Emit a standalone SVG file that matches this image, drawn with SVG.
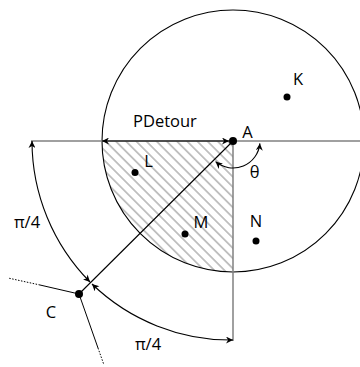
<svg xmlns="http://www.w3.org/2000/svg" width="360" height="367" viewBox="0 0 360 367">
<style>
text{font-family:"Open Sans","Liberation Sans",sans-serif;font-size:16.5px;fill:#000}
.gray{stroke:#808080;stroke-width:1.5;fill:none}
.blk{stroke:#000;stroke-width:1.1;fill:none}
.arr{marker-start:url(#ah);marker-end:url(#ah)}
.dot{fill:#000}
</style>
<defs>
<marker id="ah" viewBox="0 0 10 10" refX="10" refY="5" markerWidth="8" markerHeight="7" markerUnits="userSpaceOnUse" orient="auto-start-reverse">
<path d="M0,0 L10,5 L0,10 L3,5 z" fill="#000"/>
</marker>
<pattern id="hatch" width="7.2" height="7.2" patternUnits="userSpaceOnUse" patternTransform="rotate(45)">
<line x1="0" y1="3.6" x2="7.2" y2="3.6" stroke="#a6a6a6" stroke-width="1.3"/>
</pattern>
</defs>
<path id="region" d="M102,141 L233,141 L233,272 A131,131 0 0 1 102,141 Z" fill="url(#hatch)"/>
<circle id="range" cx="233" cy="141" r="131" fill="none" stroke="#000" stroke-width="1.1"/>
<g id="connectors">
<line class="gray" x1="31" y1="141" x2="360" y2="141"/>
<line class="gray" x1="233" y1="141" x2="233" y2="341"/>
<line class="blk" x1="233" y1="141" x2="79" y2="294"/>
<path class="blk arr" d="M102,141 L229,141"/>
<path class="blk arr" d="M32,141 A201,201 0 0 0 90,282"/>
<path class="blk arr" d="M92,284 A200,200 0 0 0 233,340"/>
<path class="blk arr" d="M215.6,161.7 A27,27 0 0 0 259.9,143.4"/>
<path d="M79,294 L40,285" stroke="#000" stroke-width="1"/>
<path d="M40,285 L8,278" stroke="#000" stroke-width="1" stroke-dasharray="1.5,1.5"/>
<path d="M79,294 L98,348" stroke="#000" stroke-width="1"/>
<path d="M98,348 L104,365" stroke="#000" stroke-width="1" stroke-dasharray="1.5,1.5"/>
</g>
<text id="pdetour" x="133" y="126.5">PDetour</text>
<text id="theta" x="254.5" y="178" text-anchor="middle">θ</text>
<text id="pi4-left" x="27" y="228" text-anchor="middle">π/4</text>
<text id="pi4-bottom" x="148" y="350" text-anchor="middle">π/4</text>
<g id="A"><circle class="dot" cx="233" cy="141" r="4"/><text x="247.5" y="137.5" text-anchor="middle">A</text></g>
<g id="K"><circle class="dot" cx="287" cy="97" r="3.5"/><text x="298" y="85" text-anchor="middle">K</text></g>
<g id="L"><circle class="dot" cx="135" cy="172.5" r="3.5"/><text x="148.5" y="167" text-anchor="middle">L</text></g>
<g id="M"><circle class="dot" cx="185" cy="234" r="3.5"/><text x="201" y="228" text-anchor="middle">M</text></g>
<g id="N"><circle class="dot" cx="256" cy="241" r="3.5"/><text x="256" y="227" text-anchor="middle">N</text></g>
<g id="C"><circle class="dot" cx="79" cy="294" r="4"/><text x="51" y="318" text-anchor="middle">C</text></g>
</svg>
